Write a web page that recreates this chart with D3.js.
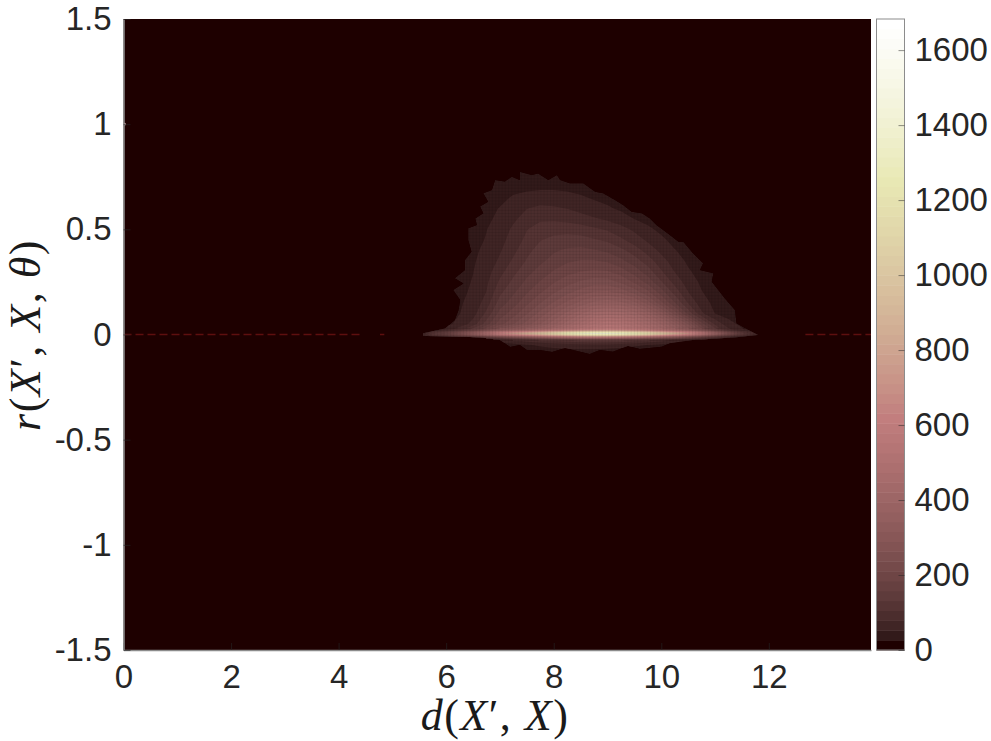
<!DOCTYPE html>
<html>
<head>
<meta charset="utf-8">
<script src="https://cdn.jsdelivr.net/npm/d3@7"></script>
<style>
  html, body { margin: 0; padding: 0; background: #fff; }
  svg { display: block; }
  text { font-family: "Liberation Sans", Helvetica, Arial, sans-serif; }
  .math, .math text { font-family: "Liberation Serif", "DejaVu Serif", serif; }
</style>
</head>
<body>
<script>
'use strict';

var xTicks = [0, 2, 4, 6, 8, 10, 12];
var xTickLabels = ["0", "2", "4", "6", "8", "10", "12"];
var yTicks = [-1.5, -1, -0.5, 0, 0.5, 1, 1.5];
var yTickLabels = ["-1.5", "-1", "-0.5", "0", "0.5", "1", "1.5"];
var barTicks = [0, 200, 400, 600, 800, 1000, 1200, 1400, 1600];
var countMax = 1683;
var levelCount = 64;

// column positions shared by the three tables below
var dBins = [5.5, 5.75, 6, 6.25, 6.5, 6.75, 7, 7.25, 7.5, 7.75, 8, 8.25, 8.5, 8.75, 9, 9.25, 9.5, 9.75, 10, 10.25, 10.5, 10.75, 11, 11.25, 11.5, 11.75, 12];

// counts above the ridge
var upperR = [0.7, 0.65, 0.6, 0.55, 0.5, 0.45, 0.4, 0.35, 0.3, 0.25, 0.2, 0.15, 0.1, 0.05, 0];
var upperCounts = [
  [40,40,40,40,40,40,40,44,46,48,48,46,44,40,40,40,40,40,40,40,40,40,40,40,40,40,40],
  [40,40,40,40,40,40,45,56,62,66,66,62,56,50,45,40,40,40,40,40,40,40,40,40,40,40,40],
  [40,40,40,40,40,44,54,66,78,84,82,78,70,62,56,48,44,40,40,40,40,40,40,40,40,40,40],
  [40,40,40,40,40,48,58,74,90,100,100,96,90,82,74,64,52,44,40,40,40,40,40,40,40,40,40],
  [40,40,40,40,44,52,64,84,104,118,122,122,118,110,102,88,74,58,46,40,40,40,40,40,40,40,40],
  [40,40,40,40,46,54,70,90,112,130,138,142,142,134,126,110,92,74,58,44,40,40,40,40,40,40,40],
  [40,40,40,40,48,58,76,98,124,142,154,162,165,160,152,138,118,94,72,54,42,40,40,40,40,40,40],
  [40,40,40,42,50,62,84,110,134,152,168,180,186,186,180,164,144,118,90,66,48,40,40,40,40,40,40],
  [40,40,40,44,52,68,96,124,148,168,186,200,210,215,212,196,172,144,108,78,56,42,40,40,40,40,40],
  [40,40,40,46,54,74,110,138,164,186,208,226,240,250,248,232,206,174,134,96,66,48,40,40,40,40,40],
  [40,40,40,48,56,80,126,154,182,208,234,256,276,292,296,282,254,218,172,122,80,54,42,40,40,40,40],
  [40,40,40,50,60,92,144,172,204,236,266,296,324,350,360,350,324,276,218,160,104,64,46,40,40,40,40],
  [40,40,40,52,68,112,168,198,234,272,310,350,390,425,440,430,405,360,300,225,150,84,52,42,40,40,40],
  [40,40,46,60,90,145,200,235,275,315,360,410,455,500,520,510,480,440,390,330,260,170,100,62,46,40,40],
  [40,60,85,130,190,260,330,375,415,455,495,535,565,590,600,590,560,520,470,410,340,260,180,105,65,40,40]
];

// the thin bright streak
var ridgeR = [0.025, 0.015, 0.005, -0.005, -0.015, -0.025];
var ridgeCounts = [
  [40,50,66,95,140,200,265,305,345,385,430,470,510,545,560,550,520,480,430,370,300,215,140,84,55,40,40],
  [45,80,110,170,240,330,430,500,570,640,710,780,840,890,910,880,820,740,650,560,470,350,240,150,90,60,40],
  [40,130,170,260,360,480,640,760,880,1000,1130,1280,1380,1440,1450,1400,1300,1170,1020,870,720,560,400,260,150,80,40],
  [40,90,120,170,230,310,400,480,560,640,720,800,870,920,930,890,820,730,630,530,430,320,220,140,90,55,40],
  [40,40,48,70,85,110,150,190,230,270,310,350,380,400,400,380,340,300,260,215,170,125,90,65,45,40,40],
  [40,40,40,40,40,52,66,80,95,110,120,130,140,145,145,140,125,110,95,78,62,52,40,40,40,40,40]
];

// small lobe under the ridge
var lowerR = [-0.025, -0.05, -0.075];
var lowerCounts = [
  [40,40,40,40,40,52,66,80,95,110,120,130,140,145,145,140,125,110,95,78,62,52,40,40,40,40,40],
  [40,40,40,40,40,40,40,44,50,56,62,66,70,72,70,64,58,52,46,40,40,40,40,40,40,40,40],
  [40,40,40,40,40,40,40,40,40,44,46,48,48,48,46,44,40,40,40,40,40,40,40,40,40,40,40]
];

// outline of the non-empty region, clockwise from the left tip
var edgeD = [5.57,5.98,6.16,6.23,6.26,6.13,6.32,6.16,6.35,6.35,6.47,6.41,6.41,6.57,6.54,6.69,6.63,6.78,6.69,6.85,6.91,7.09,7.22,7.37,7.37,7.59,7.71,7.9,8.06,8.12,8.3,8.55,8.77,8.92,9.14,9.29,9.45,9.64,9.79,9.91,10.16,10.32,10.41,10.59,10.78,10.72,10.97,10.94,11.18,11.37,11.4,11.62,11.8,11.4,10.59,10.35,10.16,10.01,9.6,9.38,9.1,8.86,8.67,8.49,8.21,7.97,7.74,7.5,7.37,7.19,7,6.63,5.57];
var edgeR = [0.006,0.029,0.069,0.116,0.164,0.212,0.243,0.267,0.307,0.354,0.394,0.449,0.505,0.521,0.552,0.576,0.608,0.631,0.671,0.687,0.735,0.727,0.75,0.735,0.774,0.758,0.766,0.735,0.758,0.735,0.719,0.719,0.679,0.671,0.639,0.616,0.584,0.576,0.552,0.521,0.473,0.441,0.441,0.386,0.339,0.307,0.291,0.251,0.172,0.116,0.053,0.021,-0.002,-0.013,-0.026,-0.034,-0.042,-0.058,-0.069,-0.055,-0.082,-0.074,-0.093,-0.082,-0.064,-0.083,-0.074,-0.074,-0.05,-0.059,-0.026,-0.013,-0.007];

// broken dark red line along r = 0, and the lone bin at d = 0, r = 1
var zeroStart = [0, 4.77, 12.68];
var zeroEnd = [4.4, 4.85, 13.9];
var spotD = [0.02];
var spotR = [1];

var size = [991, 741];
var plot = {left: 123.5, right: 871, top: 19, bottom: 650};
var bar = {left: 876.5, right: 904.5};
var inkColor = "#262626";
var boxColor = "#8c8c8c";
var tickFont = "33px";

var svg = d3.select("body")
  .append("svg")
  .attr("width", size[0])
  .attr("height", size[1]);

var x = d3.scaleLinear().domain([0, 13.9]).range([plot.left, plot.right]);
var y = d3.scaleLinear().domain([-1.5, 1.5]).range([plot.bottom, plot.top]);
var barY = d3.scaleLinear().domain([0, countMax]).range([plot.bottom, plot.top]);

// MATLAB pink colormap, one colour per level
function pinkLevel(i) {
  var n = 24;
  var gray = i / (levelCount - 1);
  var hot = [
    Math.min(1, (i + 1) / n),
    i < n ? 0 : Math.min(1, (i - n + 1) / n),
    i < 2 * n ? 0 : (i - 2 * n + 1) / (levelCount - 2 * n)
  ];
  var c = hot.map(h => Math.round(255 * Math.sqrt((2 * gray + h) / 3)));
  return d3.rgb(c[0], c[1], c[2]).formatHex();
}

var levels = d3.range(levelCount);
var palette = levels.map(pinkLevel);
var levelWidth = countMax / levelCount;

var defs = svg.append("defs");

defs.append("clipPath")
  .attr("id", "plot-clip")
  .append("rect")
  .attr("x", plot.left)
  .attr("y", plot.top)
  .attr("width", plot.right - plot.left)
  .attr("height", plot.bottom - plot.top);

var outline = d3.line()
  .x(i => x(edgeD[i]))
  .y(i => y(edgeR[i]));

defs.append("clipPath")
  .attr("id", "edge-clip")
  .append("path")
  .attr("d", outline(d3.range(edgeD.length)));

// empty bins
svg.append("rect")
  .attr("x", plot.left)
  .attr("y", plot.top)
  .attr("width", plot.right - plot.left)
  .attr("height", plot.bottom - plot.top)
  .attr("fill", palette[0]);

var marks = svg.append("g").attr("clip-path", "url(#plot-clip)");

// dashed line on r = 0
marks.append("g")
  .selectAll("line")
  .data(zeroStart)
  .join("line")
  .attr("x1", d => x(d))
  .attr("x2", (d, i) => x(zeroEnd[i]))
  .attr("y1", y(0))
  .attr("y2", y(0))
  .attr("stroke", "#5e0f0f")
  .attr("stroke-width", 1.5)
  .attr("stroke-dasharray", "8,4");

marks.append("g")
  .selectAll("circle")
  .data(spotD)
  .join("circle")
  .attr("cx", d => x(d))
  .attr("cy", (d, i) => y(spotR[i]))
  .attr("r", 1.3)
  .attr("fill", "#c09a9a");

var soft = marks.append("g").style("filter", "blur(0.5px)");
var field = soft.append("g").attr("clip-path", "url(#edge-clip)");

// lowest band fills the whole outline
field.append("path")
  .attr("d", outline(d3.range(edgeD.length)))
  .attr("fill", palette[1]);

// filled bands for one table of counts
function drawBands(counts, rows, minCount) {
  var nx = dBins.length;
  var ny = rows.length;
  var dStep = dBins[1] - dBins[0];
  var rStep = rows[1] - rows[0];

  var thresholds = levels.map(i => i * levelWidth).filter(t => t >= minCount);
  var polygons = d3.contours()
    .size([nx, ny])
    .thresholds(thresholds)(counts.flat());

  var path = d3.geoPath(d3.geoTransform({
    point: function(gx, gy) {
      this.stream.point(x(dBins[0] + (gx - 0.5) * dStep), y(rows[0] + (gy - 0.5) * rStep));
    }
  }));

  field.append("g")
    .selectAll("path")
    .data(polygons)
    .join("path")
    .attr("d", path)
    .attr("fill", d => palette[Math.round(d.value / levelWidth)]);
}

drawBands(upperCounts, upperR, 50);
drawBands(lowerCounts, lowerR, 50);
drawBands(ridgeCounts, ridgeR, 0);

// faint bin grid seen through the bright part
var gridD = d3.range(5.6, 12, 0.06);
var gridR = d3.range(-0.1, 0.8, 0.015);

field.append("g")
  .selectAll("line")
  .data(gridD)
  .join("line")
  .attr("x1", d => x(d))
  .attr("x2", d => x(d))
  .attr("y1", y(0.8))
  .attr("y2", y(-0.1))
  .attr("stroke", "#000")
  .attr("stroke-opacity", 0.07);

field.append("g")
  .selectAll("line")
  .data(gridR)
  .join("line")
  .attr("x1", x(5.5))
  .attr("x2", x(12))
  .attr("y1", d => y(d))
  .attr("y2", d => y(d))
  .attr("stroke", "#000")
  .attr("stroke-opacity", 0.07);

// axes
var axisBottom = svg.append("g")
  .attr("transform", "translate(0," + plot.bottom + ")")
  .call(d3.axisBottom(x)
    .tickValues(xTicks)
    .tickFormat((d, i) => xTickLabels[i])
    .tickSizeInner(-7)
    .tickSizeOuter(0)
    .tickPadding(14.5));

var axisLeft = svg.append("g")
  .attr("transform", "translate(" + plot.left + ",0)")
  .call(d3.axisLeft(y)
    .tickValues(yTicks)
    .tickFormat((d, i) => yTickLabels[i])
    .tickSizeInner(-7)
    .tickSizeOuter(0)
    .tickPadding(12));

[axisBottom, axisLeft].forEach(function(a) {
  a.select(".domain").attr("stroke", boxColor).attr("stroke-width", 1.5);
  a.selectAll(".tick line").attr("stroke", inkColor).attr("stroke-opacity", 0.6);
  a.selectAll(".tick text")
    .attr("fill", inkColor)
    .style("font-size", tickFont);
});

// colour bar
var barG = svg.append("g");

barG.selectAll("rect")
  .data(levels)
  .join("rect")
  .attr("x", bar.left)
  .attr("width", bar.right - bar.left)
  .attr("y", d => barY((d + 1) * levelWidth))
  .attr("height", d => barY(d * levelWidth) - barY((d + 1) * levelWidth) + 0.5)
  .attr("fill", d => palette[d]);

barG.append("rect")
  .attr("x", bar.left)
  .attr("y", plot.top)
  .attr("width", bar.right - bar.left)
  .attr("height", plot.bottom - plot.top)
  .attr("fill", "none")
  .attr("stroke", boxColor)
  .attr("stroke-width", 1);

var axisBar = svg.append("g")
  .attr("transform", "translate(" + bar.right + ",0)")
  .call(d3.axisRight(barY)
    .tickValues(barTicks)
    .tickFormat(d3.format("d"))
    .tickSizeInner(-6)
    .tickSizeOuter(0)
    .tickPadding(10));

axisBar.select(".domain").remove();
axisBar.selectAll(".tick line").attr("stroke", inkColor).attr("stroke-opacity", 0.5);
axisBar.selectAll(".tick text")
  .attr("fill", inkColor)
  .style("font-size", tickFont);

// math labels, written piece by piece for the mix of italic and roman
function mathLabel(g, parts) {
  var t = g.append("text")
    .attr("class", "math")
    .attr("text-anchor", "middle")
    .attr("fill", "#1a1a1a")
    .style("font-size", "44px")
    .style("letter-spacing", "1.5px");
  parts.forEach(function(p) {
    t.append("tspan")
      .style("font-style", p[1] ? "italic" : "normal")
      .text(p[0]);
  });
  return t;
}

var xLabel = [["d", 1], ["(", 0], ["X", 1], ["\u2032", 0], [", ", 0], ["X", 1], [")", 0]];
var yLabel = [["r", 1], ["(", 0], ["X", 1], ["\u2032", 0], [", ", 0], ["X", 1], [", ", 0], ["\u03b8", 1], [")", 0]];

mathLabel(svg.append("g").attr("transform", "translate(495,730)"), xLabel);
mathLabel(svg.append("g").attr("transform", "translate(40,335) rotate(-90)"), yLabel);
</script>
</body>
</html>
